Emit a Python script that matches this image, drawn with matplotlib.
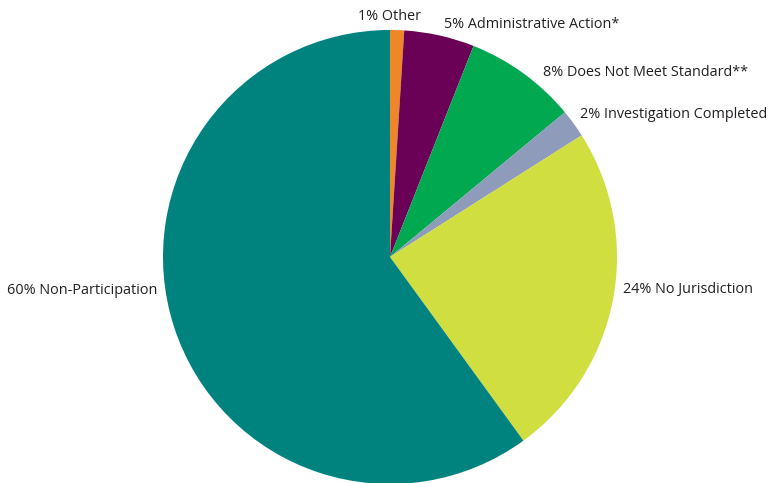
import matplotlib.pyplot as plt

categories = ['Other', 'Administrative Action*', 'Does Not Meet Standard**',
              'Investigation Completed', 'No Jurisdiction', 'Non-Participation']
shares = [1, 5, 8, 2, 24, 60]
colors = ['#f0862a', '#6b0057', '#00a84f', '#8e9bbb', '#d1de40', '#00827f']

# label anchor points in pixels (x, y from top) and alignment
label_px = [(390, 16, 'center'), (444, 25, 'left'), (543, 72, 'left'),
            (580, 115, 'left'), (623, 290, 'left'), (157, 290, 'right')]

W, H = 768, 483
cx, cy, r = 390, 257, 227

def to_data(px, py):
    return (px - cx) / r, (cy - py) / r

fig = plt.figure(figsize=(W / 100, H / 100), dpi=100)
ax = fig.add_axes([0, 0, 1, 1])
ax.pie(shares, colors=colors, startangle=90, counterclock=False,
       radius=1, wedgeprops=dict(linewidth=0))
ax.set_aspect('auto')
ax.set_xlim(-cx / r, (W - cx) / r)
ax.set_ylim((cy - H) / r, cy / r)
ax.axis('off')

for (px, py, ha), cat, val in zip(label_px, categories, shares):
    x, y = to_data(px, py)
    ax.text(x, y, f'{val}% {cat}', ha=ha, va='center', fontsize=10.4,
            family=['Open Sans', 'DejaVu Sans'], color='#231f20')

fig.savefig('out.png', dpi=100)
